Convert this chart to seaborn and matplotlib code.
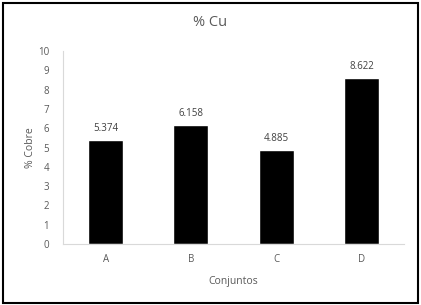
import matplotlib
matplotlib.use("Agg")
import matplotlib.pyplot as plt
import seaborn as sns
import pandas as pd
from matplotlib.patches import Rectangle

categories = ["A", "B", "C", "D"]
values = [5.374, 6.158, 4.885, 8.622]
yticks = [0, 1, 2, 3, 4, 5, 6, 7, 8, 9, 10]

sns.set_style("white")
plt.rcParams['font.family'] = ['Open Sans', 'DejaVu Sans']

df = pd.DataFrame({"Conjuntos": categories, "Cobre": values})

fig = plt.figure(figsize=(4.21, 3.05), dpi=100)
ax = fig.add_axes([63/421, 1-244/305, (404-63)/421, (244-51)/305])
sns.barplot(data=df, x="Conjuntos", y="Cobre", color="black", width=0.41,
            saturation=1, ax=ax)

gray = "#595959"
ax.set_ylim(0, 10)
ax.set_yticks(yticks)
ax.set_yticklabels([str(t) for t in yticks], fontsize=7, color=gray)
ax.tick_params(axis="x", labelsize=7, colors=gray, length=0, pad=7)
ax.tick_params(axis="y", length=0, pad=10)
for s in ["top", "right"]:
    ax.spines[s].set_visible(False)
ax.spines["left"].set_color("#d9d9d9")
ax.spines["bottom"].set_color("#d9d9d9")
ax.spines["left"].set_linewidth(0.8)
ax.spines["bottom"].set_linewidth(0.8)

ax.set_xlabel("Conjuntos", fontsize=7.5, color=gray, labelpad=8)
ax.set_ylabel("% Cobre", fontsize=7.5, color=gray, labelpad=1)
fig.text(0.5, 1-22/305, "% Cu", ha="center", va="center", fontsize=10.5, color=gray)

for i, v in enumerate(values):
    ax.text(i, v + 0.3, f"{v:.3f}", ha="center", va="bottom", fontsize=7, color="#404040")

fig.patches.append(Rectangle((2.5/421, 2.5/305), 1-5.5/421, 1-5.5/305,
                             transform=fig.transFigure, fill=False,
                             edgecolor="black", linewidth=1.5))
fig.savefig("out.png", dpi=100)
